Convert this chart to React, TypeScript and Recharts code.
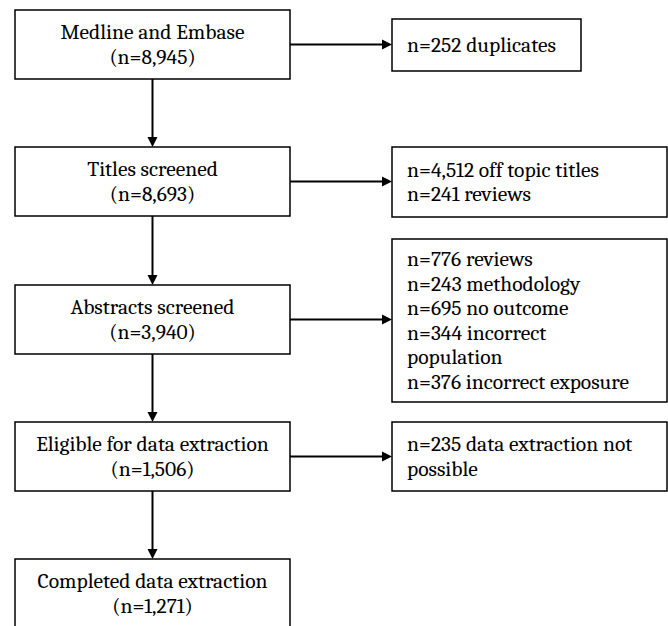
import React from "react";
import { ComposedChart, XAxis, YAxis, ReferenceArea, ReferenceLine } from "recharts";

// ---------- data ----------
const stageNames = [
  "Medline and Embase",
  "Titles screened",
  "Abstracts screened",
  "Eligible for data extraction",
  "Completed data extraction",
];
const stageCounts = [8945, 8693, 3940, 1506, 1271];

const exclusionCounts = [[252], [4512, 241], [776, 243, 695, 344, 376], [235]];
const exclusionReasons = [
  ["duplicates"],
  ["off topic titles", "reviews"],
  ["reviews", "methodology", "no outcome", "incorrect population", "incorrect exposure"],
  ["data extraction not possible"],
];

// ---------- layout / style ----------
const W = 668;
const H = 626;
const FONT = "Cambria, 'Liberation Serif', 'Times New Roman', serif";
const FS = 21.5;
const LH = 24.5;
const WRAP = 226;

const leftX = [15, 290];
const stageTop = [10, 147, 285, 422, 559];
const boxH = 69;
const rightX1 = 392;
const rightX2 = [581, 667, 667, 667];
const rightTop = [19, 147, 239, 422];
const rightBottom = [71, 217, 402, 491];
const arrowX = 152.5;
const rightPad = 15;

const fmt = (n: number) => n.toLocaleString("en-US");

let ctx: CanvasRenderingContext2D | null = null;
function measure(s: string): number {
  if (!ctx) {
    const c = document.createElement("canvas");
    ctx = c.getContext("2d");
  }
  if (!ctx) return s.length * FS * 0.45;
  ctx.font = `${FS}px ${FONT}`;
  return ctx.measureText(s).width;
}
function wrap(s: string, max: number): string[] {
  const words = s.split(" ");
  const lines: string[] = [];
  let cur = "";
  for (const w of words) {
    const t = cur ? cur + " " + w : w;
    if (cur && measure(t) > max) {
      lines.push(cur);
      cur = w;
    } else cur = t;
  }
  if (cur) lines.push(cur);
  return lines;
}

const CenterLabel = (lines: string[]) => (props: any) => {
  const vb = props.viewBox || {};
  const cx = vb.x + vb.width / 2;
  const cy = vb.y + vb.height / 2;
  return (
    <text fontFamily={FONT} fontSize={FS} fill="#000" textAnchor="middle">
      {lines.map((l, i) => (
        <tspan key={i} x={cx} y={cy + (i - (lines.length - 1) / 2) * LH + FS * 0.33}>
          {l}
        </tspan>
      ))}
    </text>
  );
};

const LeftLabel = (lines: string[]) => (props: any) => {
  const vb = props.viewBox || {};
  const x = vb.x + rightPad;
  const cy = vb.y + vb.height / 2;
  return (
    <text fontFamily={FONT} fontSize={FS} fill="#000" textAnchor="start">
      {lines.map((l, i) => (
        <tspan key={i} x={x} y={cy + (i - (lines.length - 1) / 2) * LH + FS * 0.33}>
          {l}
        </tspan>
      ))}
    </text>
  );
};

const Arrow = (props: any) => {
  const { x1, y1, x2, y2 } = props;
  const dx = x2 - x1;
  const dy = y2 - y1;
  const len = Math.sqrt(dx * dx + dy * dy) || 1;
  const ux = dx / len;
  const uy = dy / len;
  const hl = 10;
  const hw = 5;
  const bx = x2 - ux * hl;
  const by = y2 - uy * hl;
  const px = -uy;
  const py = ux;
  return (
    <g>
      <line x1={x1} y1={y1} x2={bx} y2={by} stroke="#000" strokeWidth={2} />
      <polygon
        points={`${x2},${y2} ${bx + px * hw},${by + py * hw} ${bx - px * hw},${by - py * hw}`}
        fill="#000"
      />
    </g>
  );
};

export default function App() {
  return (
    <div style={{ position: "absolute", left: 0, top: 0, width: W, height: H, background: "#fff" }}>
      <ComposedChart width={W} height={H} data={[]} margin={{ top: 0, right: 0, bottom: 0, left: 0 }}>
        <XAxis type="number" dataKey="x" domain={[0, W]} hide allowDataOverflow />
        <YAxis type="number" dataKey="y" domain={[0, H]} reversed hide allowDataOverflow />

        {/* vertical arrows */}
        {stageNames.slice(0, -1).map((_, i) => (
          <ReferenceLine
            key={`v${i}`}
            segment={[
              { x: arrowX, y: stageTop[i] + boxH },
              { x: arrowX, y: stageTop[i + 1] },
            ]}
            ifOverflow="visible"
            shape={Arrow}
          />
        ))}
        {/* horizontal arrows */}
        {exclusionCounts.map((_, i) => (
          <ReferenceLine
            key={`h${i}`}
            segment={[
              { x: leftX[1], y: stageTop[i] + boxH / 2 },
              { x: rightX1, y: stageTop[i] + boxH / 2 },
            ]}
            ifOverflow="visible"
            shape={Arrow}
          />
        ))}

        {/* stage boxes */}
        {stageNames.map((name, i) => (
          <ReferenceArea
            key={`s${i}`}
            x1={leftX[0]}
            x2={leftX[1]}
            y1={stageTop[i]}
            y2={stageTop[i] + boxH}
            ifOverflow="visible"
            fill="#fff"
            fillOpacity={1}
            stroke="#000"
            strokeWidth={1.5}
            label={CenterLabel([name, `(n=${fmt(stageCounts[i])})`])}
          />
        ))}

        {/* exclusion boxes */}
        {exclusionCounts.map((counts, i) => {
          const lines = counts.flatMap((c, j) => wrap(`n=${fmt(c)} ${exclusionReasons[i][j]}`, WRAP));
          return (
            <ReferenceArea
              key={`e${i}`}
              x1={rightX1}
              x2={rightX2[i]}
              y1={rightTop[i]}
              y2={rightBottom[i]}
              ifOverflow="visible"
              fill="#fff"
              fillOpacity={1}
              stroke="#000"
              strokeWidth={1.5}
              label={LeftLabel(lines)}
            />
          );
        })}
      </ComposedChart>
    </div>
  );
}
